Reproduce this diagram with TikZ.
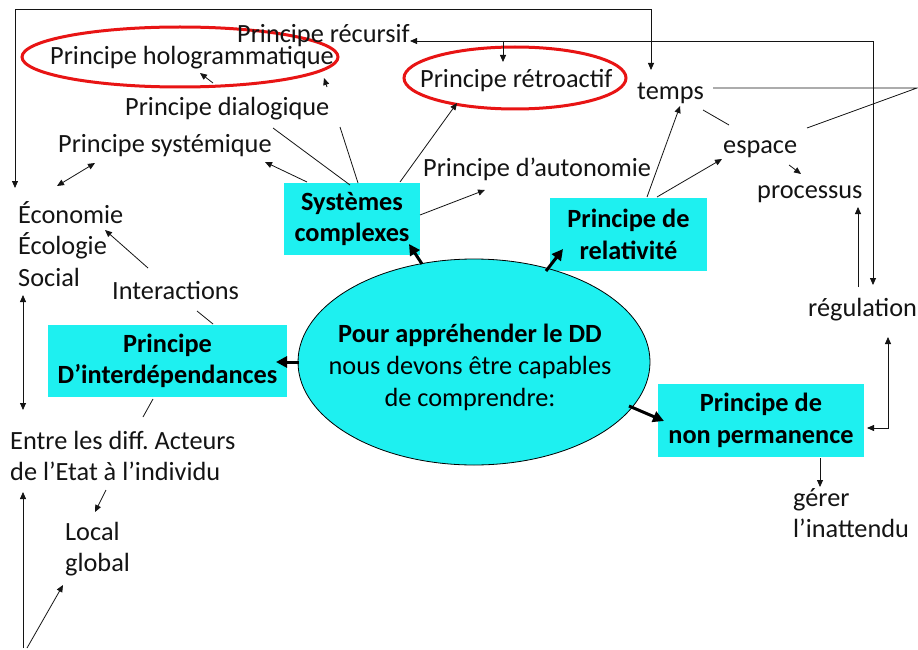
\documentclass[tikz,border=0pt]{standalone}
\usepackage{fontspec}
\setmainfont{Carlito}
\usetikzlibrary{arrows.meta,shapes.geometric}
\definecolor{boxcyan}{RGB}{30,240,240}
\definecolor{ringred}{RGB}{232,20,20}
\definecolor{ink}{RGB}{20,20,20}
\frenchspacing
\begin{document}
\begin{tikzpicture}[x=1pt,y=-1pt,
  txt/.style={inner sep=0pt, anchor=west, font=\fontsize{26.3}{31.5}\selectfont, align=left, text=ink},
  cbox/.style={fill=boxcyan, inner sep=0pt, font=\fontsize{26.3}{31.5}\selectfont\bfseries, align=center, text=black},
  conn/.style={draw=ink, line width=0.8pt},
  arr/.style={conn, -{Triangle[length=7pt,width=6pt]}},
  darr/.style={conn, {Triangle[length=7pt,width=6pt]}-{Triangle[length=7pt,width=6pt]}},
  bigarr/.style={draw=black, line width=3pt, -{Triangle[length=11pt,width=11pt]}},
  ring/.style={draw=ringred, line width=3pt}]
\useasboundingbox (0,0) rectangle (918,650);
\fill[white] (0,0) rectangle (918,650);

% red rings
\draw[ring] (180,57) ellipse [x radius=158, y radius=30];
\draw[ring] (515,78) ellipse [x radius=111, y radius=31];

% text nodes
\node[txt] (recursif) at (237,36) {Principe récursif};
\node[txt, anchor=center] (holo) at (192,58) {Principe hologrammatique};
\node[txt] (dialog) at (125,109) {Principe dialogique};
\node[txt] (system) at (58,146) {Principe systémique};
\node[txt] (retro) at (420,81) {Principe rétroactif};
\node[txt] (temps) at (637,93) {temps};
\node[txt] (espace) at (723,149) {espace};
\node[txt] (processus) at (757,194) {processus};
\node[txt] (autonomie) at (423,169) {Principe d’autonomie};
\node[txt] (eco) at (18,244) {Économie\\Écologie\\Social};
\node[txt] (interactions) at (112,291) {Interactions};
\node[txt] (entre) at (10,456) {Entre les diff.\ Acteurs\\de l’Etat à l’individu};
\node[txt] (local) at (65,549) {Local\\global};
\node[txt] (gerer) at (793,513) {gérer\\l’inattendu};
\node[txt] (regulation) at (808,310) {régulation};

% cyan boxes
\node[cbox, minimum width=136pt, minimum height=72pt] (sys) at (352,219) {Systèmes\\complexes};
\node[cbox, minimum width=157pt, minimum height=73pt] (rel) at (628.5,234.5) {Principe de\\relativité};
\node[cbox, minimum width=239pt, minimum height=72pt] (inter) at (167.5,361) {Principe\\D’interdépendances};
\node[cbox, minimum width=206pt, minimum height=73pt] (nonp) at (761,420.5) {Principe de\\non permanence};

% central ellipse
\node[ellipse, draw=black, line width=0.8pt, fill=boxcyan, minimum width=352pt, minimum height=206pt, inner sep=0pt] (main) at (474,362) {};
\node[inner sep=0pt, align=center, font=\fontsize{26.3}{32}\selectfont, text=black] (maintext) at (470,367) {\textbf{Pour appréhender le DD}\\nous devons être capables\\de comprendre:};

% named end points
\coordinate (ecoTop) at (15,188);
\coordinate (tl) at (15,9);
\coordinate (tr) at (651,9);
\coordinate (tempsTop) at (651,70);
\coordinate (regTop) at (873,285);
\coordinate (rr) at (873,41);
\coordinate (recEnd) at (410,41);
\coordinate (retroJ) at (503,41);
\coordinate (retroTop) at (503,62);
\coordinate (holoA) at (213,83);
\coordinate (holoB) at (200,73);
\coordinate (sysA) at (358,183);
\coordinate (sysB) at (340,127);
\coordinate (stubA) at (327,87);
\coordinate (stubB) at (324,78);
\coordinate (sysC) at (350,185);
\coordinate (dialB) at (273,128);
\coordinate (sysD) at (307,182);
\coordinate (systB) at (265,162);
\coordinate (systL) at (95,163);
\coordinate (ecoR) at (57,186);
\coordinate (sysE) at (400,182);
\coordinate (retroB) at (457,103);
\coordinate (sysF) at (420,215);
\coordinate (autoB) at (485,190);
\coordinate (relA) at (647,197);
\coordinate (tempsB) at (680,106);
\coordinate (relB) at (657,197);
\coordinate (espL) at (722,159);
\coordinate (tempsC) at (703,110);
\coordinate (espT) at (729,125);
\coordinate (espB) at (789,165);
\coordinate (procT) at (801,174);
\coordinate (tempsR) at (713,88);
\coordinate (edge) at (917,88);
\coordinate (espR) at (807,128);
\coordinate (regA) at (858,287);
\coordinate (procB) at (858,207);
\coordinate (regB) at (888,337);
\coordinate (regC) at (888,428);
\coordinate (nonpR) at (867,428);
\coordinate (nonpB) at (820,458);
\coordinate (gerT) at (820,487);
\coordinate (interT) at (213,324);
\coordinate (interB) at (197,311);
\coordinate (intA) at (148,268);
\coordinate (ecoB) at (105,230);
\coordinate (ecoD) at (23,295);
\coordinate (entreT) at (23,410);
\coordinate (interC) at (153,399);
\coordinate (entreR) at (143,417);
\coordinate (entreB) at (106,490);
\coordinate (localT) at (95,512);
\coordinate (bot) at (23,648);
\coordinate (entreBL) at (23,492);
\coordinate (bot2) at (27,648);
\coordinate (localB) at (63,585);
\coordinate (mSys) at (422,264);
\coordinate (sysIn) at (409,244);
\coordinate (mRel) at (546,271);
\coordinate (relIn) at (563,249);
\coordinate (mInt) at (299,362);
\coordinate (intIn) at (276,362);
\coordinate (mNon) at (629,406);
\coordinate (nonIn) at (664,421);

% connectors
\draw[darr] (ecoTop) -- (tl) -- (tr) -- (tempsTop);
\draw[darr] (regTop) -- (rr) -- (recEnd);
\draw[arr] (retroJ) -- (retroTop);
\draw[arr] (holoA) -- (holoB);
\draw[conn] (sysA) -- (sysB);
\draw[arr] (stubA) -- (stubB);
\draw[conn] (sysC) -- (dialB);
\draw[arr] (sysD) -- (systB);
\draw[darr] (ecoR) -- (systL);
\draw[arr] (sysE) -- (retroB);
\draw[arr] (sysF) -- (autoB);
\draw[arr] (relA) -- (tempsB);
\draw[arr] (relB) -- (espL);
\draw[conn] (tempsC) -- (espT);
\draw[arr] (espB) -- (procT);
\draw[conn] (tempsR) -- (edge) -- (espR);
\draw[arr] (regA) -- (procB);
\draw[darr] (nonpR) -- (regC) -- (regB);
\draw[arr] (nonpB) -- (gerT);
\draw[conn] (interB) -- (interT);
\draw[arr] (intA) -- (ecoB);
\draw[darr] (ecoD) -- (entreT);
\draw[conn] (interC) -- (entreR);
\draw[arr] (entreB) -- (localT);
\draw[arr] (bot) -- (entreBL);
\draw[arr] (bot2) -- (localB);

% thick arrows from the centre
\draw[bigarr] (mSys) -- (sysIn);
\draw[bigarr] (mRel) -- (relIn);
\draw[bigarr] (mInt) -- (intIn);
\draw[bigarr] (mNon) -- (nonIn);
\end{tikzpicture}
\end{document}
